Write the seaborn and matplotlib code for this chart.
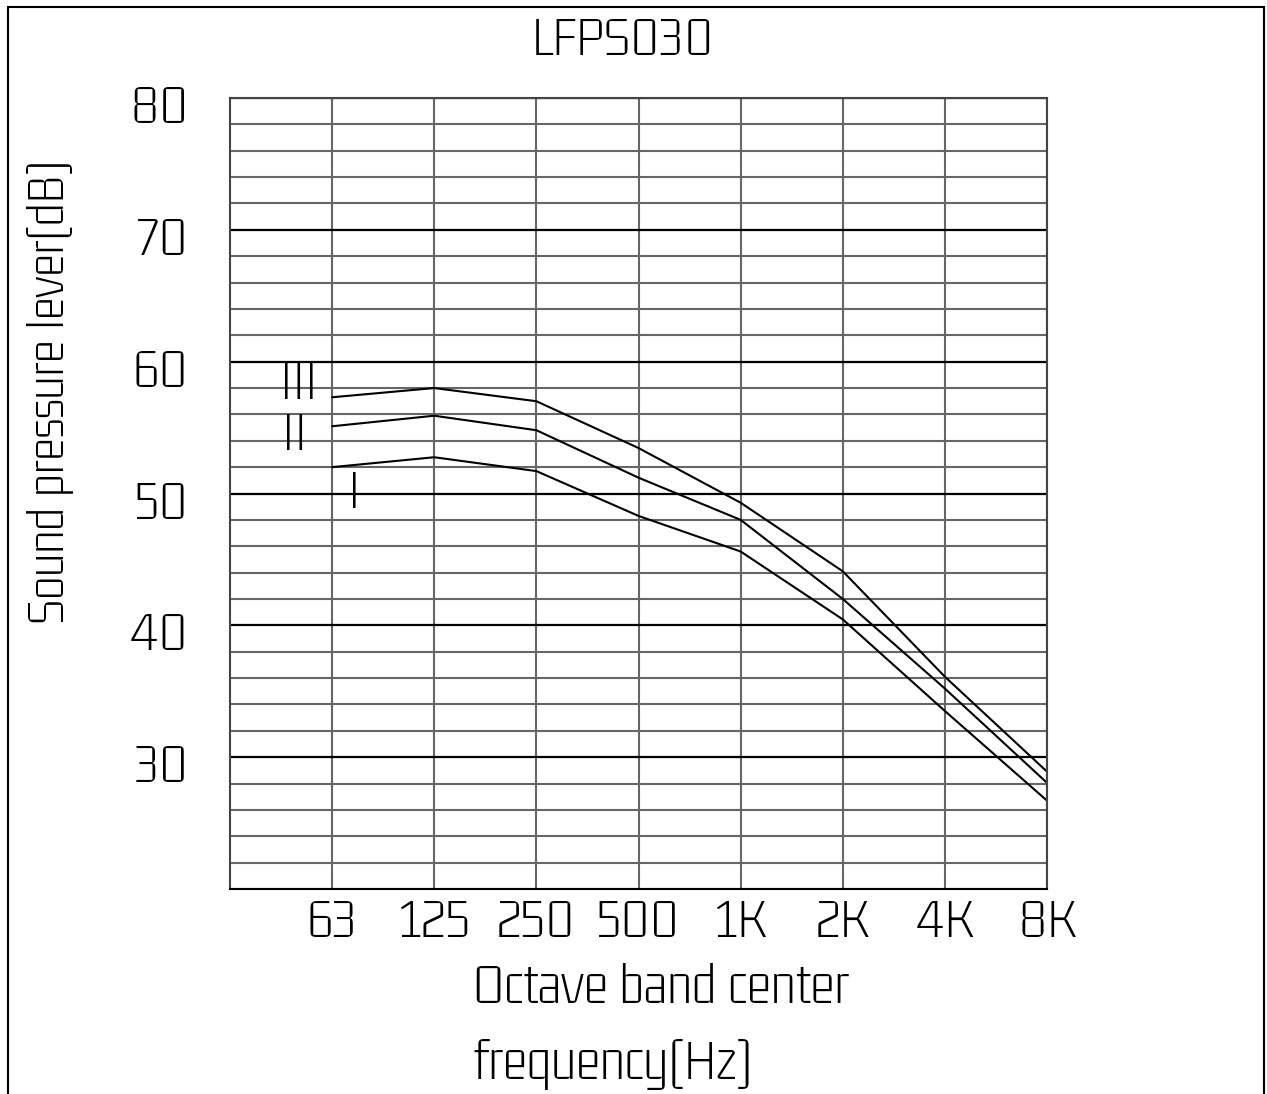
import numpy as np
import pandas as pd
import seaborn as sns
import matplotlib
matplotlib.use('Agg')
from matplotlib import pyplot as plt
from matplotlib.patches import Rectangle
from matplotlib.transforms import ScaledTranslation

# Octave band data (dB)
bands = ['63', '125', '250', '500', '1K', '2K', '4K', '8K']
curve_I = [52.0, 52.75, 51.7, 48.3, 45.6, 40.45, 33.5, 26.7]
curve_II = [55.1, 55.9, 54.8, 51.2, 48.0, 42.0, 35.2, 28.05]
curve_III = [57.3, 58.0, 57.0, 53.45, 49.3, 44.1, 36.1, 28.9]
curve_names = ['I', 'II', 'III']
y_major = [30, 40, 50, 60, 70, 80]

sns.set_style('white')
plt.rcParams['font.family'] = ['Gemunu Libre', 'DejaVu Sans']
plt.rcParams['font.weight'] = 'light'
plt.rcParams['text.color'] = 'black'
plt.rcParams['xtick.color'] = plt.rcParams['ytick.color'] = 'black'
plt.rcParams['axes.labelcolor'] = 'black'

df = pd.DataFrame({
    'pos': list(range(len(bands))) * 3,
    'spl': curve_I + curve_II + curve_III,
    'curve': np.repeat(curve_names, len(bands)),
})

fig = plt.figure(figsize=(12.67, 10.94), dpi=100)
ax = fig.add_axes([0.1815, 0.1874, 0.8264 - 0.1815, 0.9104 - 0.1874])

ax.set_xlim(-1, 7)
ax.set_ylim(20, 80)
ax.set_xticks(range(len(bands)))
ax.set_xticklabels(bands)
ax.set_yticks(y_major)
ax.set_yticks(np.arange(20, 81, 2), minor=True)
ax.grid(which='minor', axis='y', color='#666666', linewidth=1.5)
ax.grid(which='major', axis='y', color='black', linewidth=1.6)
ax.grid(which='major', axis='x', color='#666666', linewidth=1.5)
ax.set_axisbelow(True)

sns.lineplot(data=df, x='pos', y='spl', units='curve', estimator=None,
             color='black', linewidth=1.5, ax=ax, legend=False)

for sp in ax.spines.values():
    sp.set_color('#444444')
    sp.set_linewidth(1.5)
ax.spines['bottom'].set_color('black')

ax.tick_params(axis='both', which='both', length=0, labelsize=41)
ax.tick_params(axis='x', pad=7)
ax.tick_params(axis='y', pad=30)
ax.set_xlabel('')
ax.set_ylabel('')

# y tick labels sit a little below their grid lines in the drawing
shift = ScaledTranslation(0, -6 / 100, fig.dpi_scale_trans)
for lab in ax.get_yticklabels():
    lab.set_transform(lab.get_transform() + shift)

# curve labels
ax.text(-0.33, 58.2, 'III', fontsize=40, ha='center', va='center')
ax.text(-0.37, 54.3, 'II', fontsize=40, ha='center', va='center')
ax.text(0.22, 49.9, 'I', fontsize=40, ha='center', va='center')

fig.text(0.492, 0.962, 'LFPS030', fontsize=41, ha='center', va='center')
fig.text(0.0395, 0.642, 'Sound pressure lever(dB)', fontsize=39, rotation=90,
         ha='center', va='center')
fig.text(0.373, 0.1195, 'Octave band center\nfrequency(Hz)', fontsize=42,
         ha='left', va='top', multialignment='left', linespacing=1.62)

# drawing frame
fig.patches.append(Rectangle((0.0065, -0.01), 0.991, 1.0035 - 0.0035 - 0.0064 + 0.01,
                             transform=fig.transFigure, fill=False,
                             edgecolor='black', linewidth=1.5))

fig.savefig('out.png', dpi=100, facecolor='white')
